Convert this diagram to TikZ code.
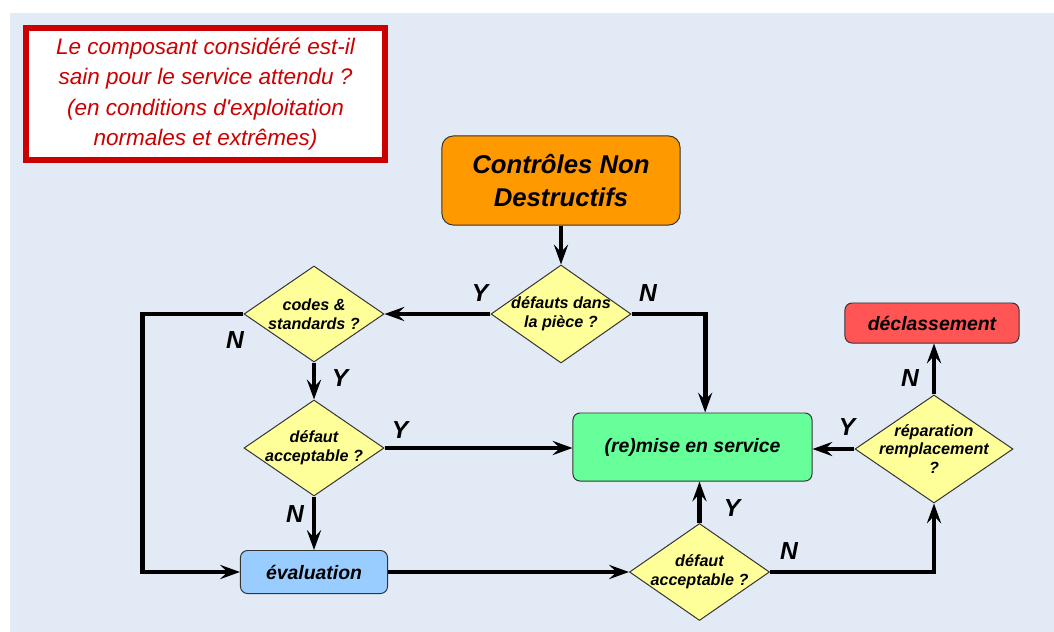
\documentclass[tikz,border=0pt]{standalone}
\usepackage{fontspec}
\setmainfont{Liberation Sans}[Ligatures=TeXOff]
\usetikzlibrary{shapes.geometric,positioning,arrows.meta}

\definecolor{bgblue}{RGB}{225,234,245}
\definecolor{notered}{RGB}{204,0,0}
\definecolor{cndorange}{RGB}{255,153,0}
\definecolor{askyellow}{RGB}{255,255,153}
\definecolor{okgreen}{RGB}{102,255,153}
\definecolor{evalblue}{RGB}{153,204,255}
\definecolor{scrapred}{RGB}{255,85,85}

\begin{document}
\begin{tikzpicture}[
  x=0.025cm, y=-0.025cm,
  >={Stealth[length=14pt,width=10pt,inset=5pt]},
  box/.style={draw=black!80, line width=0.7pt, rounded corners=5pt,
    align=center, font=\bfseries\itshape\fontsize{13.8}{16}\selectfont},
  ask/.style={diamond, draw=black!80, line width=0.7pt, fill=askyellow,
    inner sep=0pt, minimum width=3.5cm, minimum height=2.4cm},
  asktext/.style={align=center, font=\bfseries\itshape\fontsize{11.5}{13.4}\selectfont},
  flow/.style={->, line width=3.5pt},
  yn/.style={font=\bfseries\itshape\fontsize{17.5}{20}\selectfont}
]
  \useasboundingbox (0,0) rectangle (1054,632);
  \fill[white] (0,0) rectangle (1054,632);
  \fill[bgblue] (10,13) rectangle (1054,632);

  % question box, top left
  \node[draw=notered, line width=4pt, fill=white, minimum width=8.98cm,
    minimum height=3.31cm, align=center, text=notered,
    font=\itshape\fontsize{16}{21.6}\selectfont] (note) at (205.5,94)
    {Le composant considéré est-il\\sain pour le service attendu ?\\
     (en conditions d'exploitation\\normales et extrêmes)};

  % boxes
  \node[box, fill=cndorange, rounded corners=8pt, minimum width=5.95cm,
    minimum height=2.225cm, font=\bfseries\itshape\fontsize{18.3}{24}\selectfont]
    (cnd) at (561,180.5) {Contrôles Non\\Destructifs};
  \node[box, fill=okgreen, minimum width=5.975cm, minimum height=1.7cm]
    (remise) at (692.5,447) {(re)mise en service};
  \node[box, fill=evalblue, minimum width=3.675cm, minimum height=1.075cm]
    (eval) at (314,572) {évaluation};
  \node[box, fill=scrapred, minimum width=4.35cm, minimum height=1cm]
    (declass) at (932,323) {déclassement};

  % decisions
  \node[ask, minimum height=2.45cm, label={[asktext]center:{défauts dans\\la pièce ?}}]
    (q1) at (561,314) {};
  \node[ask, label={[asktext]center:{codes \&\\standards ?}}]
    (q2) at (314,314) {};
  \node[ask, label={[asktext]center:{défaut\\acceptable ?}}]
    (q3) at (314,448) {};
  \node[ask, minimum height=2.425cm, label={[asktext]center:{défaut\\acceptable ?}}]
    (q4) at (699.5,572) {};
  \node[ask, minimum width=3.95cm, minimum height=2.7cm,
    label={[asktext]center:{réparation\\remplacement\\?}}]
    (q5) at (934,449) {};

  % connectors
  \draw[flow] (cnd) -- (q1);
  \draw[flow] (q1.west) -- (q2.east);
  \draw[flow] (q1.east) -| ([xshift=9pt]remise.north);
  \draw[flow] (q2.south) -- (q3.north);
  \draw[flow] (q2.west) -- ++(-101,0) |- (eval.west);
  \draw[flow] (q3.east) -- (q3.east -| remise.west);
  \draw[flow] (q3.south) -- (eval.north);
  \draw[flow] (eval.east) -- (q4.west);
  \draw[flow] (q4.north) -- (q4.north |- remise.south);
  \draw[flow] (q4.east) -| (q5.south);
  \draw[flow] (q5.west) -- (q5.west -| remise.east);
  \draw[flow] (q5.north) -- (q5.north |- declass.south);

  % Y / N labels
  \node[yn] (q1y) at (480,293) {Y};
  \node[yn] (q1n) at (648,293) {N};
  \node[yn] (q2n) at (235,340) {N};
  \node[yn] (q2y) at (340,378) {Y};
  \node[yn] (q3y) at (400,430) {Y};
  \node[yn] (q3n) at (295,514) {N};
  \node[yn] (q4y) at (732,508) {Y};
  \node[yn] (q4n) at (789,551) {N};
  \node[yn] (q5y) at (847,427) {Y};
  \node[yn] (q5n) at (910,378) {N};
\end{tikzpicture}
\end{document}
